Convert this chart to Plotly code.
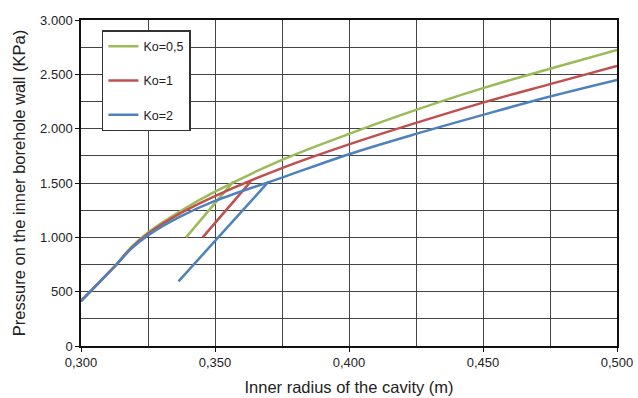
import plotly.graph_objects as go

# Inner radius of the cavity (m) - main curves
radius = [0.300, 0.3133, 0.3189, 0.325, 0.337, 0.350, 0.375, 0.400, 0.425, 0.450, 0.475, 0.500]
p_k05 = [414, 752, 912, 1045, 1240, 1420, 1713, 1952, 2173, 2373, 2551, 2725]
p_k1 = [414, 751, 906, 1032, 1220, 1380, 1637, 1855, 2053, 2240, 2410, 2578]
p_k2 = [414, 750, 898, 1018, 1190, 1335, 1550, 1765, 1952, 2127, 2296, 2449]

# Secondary branches
seg_k05_x = [0.3392, 0.3568]
seg_k05_y = [1000, 1513]
seg_k1_x = [0.3454, 0.3633]
seg_k1_y = [1000, 1513]
seg_k2_x = [0.3364, 0.3699]
seg_k2_y = [595, 1510]

names = ["Ko=0,5", "Ko=1", "Ko=2"]
colors = ["#9bbb59", "#c0504d", "#4f81bd"]

fig = go.Figure()
series = [
    (p_k05, seg_k05_x, seg_k05_y),
    (p_k1, seg_k1_x, seg_k1_y),
    (p_k2, seg_k2_x, seg_k2_y),
]
for (ym, sx, sy), name, col in zip(series, names, colors):
    # elastic (straight) part up to the kink
    fig.add_trace(go.Scatter(
        x=radius[:2], y=ym[:2],
        mode="lines", name=name, legendgroup=name, showlegend=False,
        line=dict(color=col, width=2.5),
    ))
    # curved part
    fig.add_trace(go.Scatter(
        x=radius[1:], y=ym[1:],
        mode="lines", name=name, legendgroup=name,
        line=dict(color=col, width=2.5, shape="spline", smoothing=1.0),
    ))
    fig.add_trace(go.Scatter(
        x=sx, y=sy,
        mode="lines", name=name, legendgroup=name, showlegend=False,
        line=dict(color=col, width=2.5),
    ))

grid = "#444444"
fig.update_layout(
    width=638, height=398,
    margin=dict(l=81, r=21, t=20, b=52),
    paper_bgcolor="white", plot_bgcolor="white",
    separators=",.",
    font=dict(family="Liberation Sans, Arial, sans-serif", color="#222222", size=13),
    legend=dict(
        x=0.039, y=0.969, xanchor="left", yanchor="top",
        bgcolor="white", bordercolor="#333333", borderwidth=1.5,
        font=dict(size=12.5, color="#222222"),
        traceorder="grouped", tracegroupgap=15,
    ),
    xaxis=dict(
        range=[0.300, 0.500], dtick=0.05, tick0=0.3, tickformat=".3f",
        automargin=False,
        showgrid=True, gridcolor=grid, gridwidth=1.2,
        minor=dict(dtick=0.025, showgrid=True, gridcolor=grid, gridwidth=1.2),
        showline=True, linecolor="#111111", linewidth=1.5, mirror=True,
        ticks="outside", ticklen=4, tickcolor="#111111",
        zeroline=False,
        title=dict(text="Inner radius of the cavity (m)", font=dict(size=16.5, color="#222222"), standoff=12),
    ),
    yaxis=dict(
        range=[0, 3000], dtick=500, tickformat=",d",
        automargin=False,
        showgrid=True, gridcolor=grid, gridwidth=1.2,
        minor=dict(dtick=250, showgrid=True, gridcolor=grid, gridwidth=1.2),
        showline=True, linecolor="#111111", linewidth=1.5, mirror=True,
        ticks="outside", ticklen=4, tickcolor="#111111",
        zeroline=False,
        title=dict(text="Pressure on the inner borehole wall (KPa)", font=dict(size=16.5, color="#222222"), standoff=10),
    ),
)

fig.write_html("out.html")
